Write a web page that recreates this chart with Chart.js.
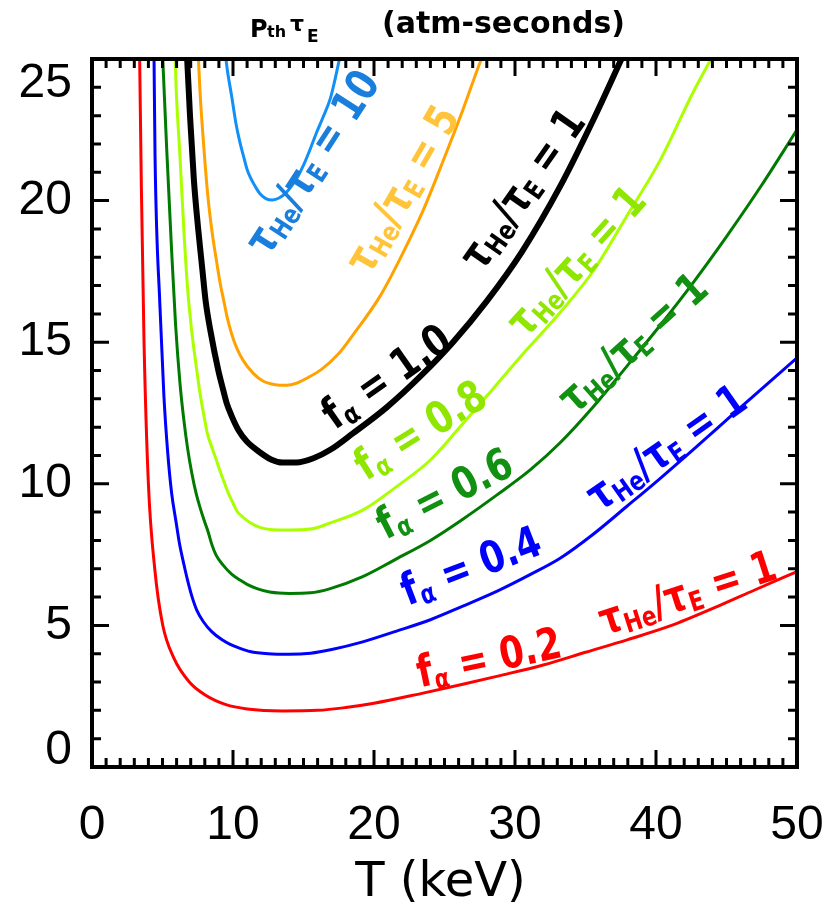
<!DOCTYPE html>
<html>
<head>
<meta charset="utf-8">
<title>p_th tau_E vs T</title>
<script src="https://cdn.jsdelivr.net/npm/chart.js@4.4.1/dist/chart.umd.min.js"></script>
<style>
  html, body { margin: 0; padding: 0; background: #fff; }
  #wrap { width: 825px; height: 917px; }
</style>
</head>
<body>
<div id="wrap"><canvas id="ignitionChart"></canvas></div>
<script>
// ======================== Data ========================
// T in keV, p*tau_E in atm-seconds
const tRed = [3.38, 3.5, 3.69, 4.0, 4.45, 5.0, 5.8, 6.9, 8.0, 9.5, 11, 13.5, 16, 18, 20, 23.4, 26.3, 28.7, 32, 35, 38, 41, 44.5, 47, 50];
const pRed = [25, 20.5, 15, 10, 7, 5.05, 3.85, 3.0, 2.55, 2.2, 2.05, 1.98, 2.0, 2.1, 2.25, 2.6, 2.92, 3.2, 3.6, 4.05, 4.5, 4.98, 5.7, 6.25, 6.9];

const tBlue = [4.4, 4.47, 4.82, 5.1, 5.37, 5.65, 5.96, 6.2, 6.52, 6.75, 7.07, 7.42, 7.9, 8.49, 9.2, 9.8, 10.5, 11.2, 12.5, 14, 15.5, 17, 19.2, 21.6, 24, 26.3, 28.7, 31.1, 33.2, 35.5, 37.9, 40.2, 42.6, 46, 50];
const pBlue = [25, 21.6, 16.25, 13.1, 11.1, 9.66, 8.66, 7.9, 7.15, 6.65, 6.05, 5.55, 5.13, 4.78, 4.5, 4.33, 4.19, 4.08, 4.0, 3.98, 4.02, 4.15, 4.42, 4.8, 5.2, 5.68, 6.2, 6.8, 7.37, 8.2, 9.19, 10.15, 11.19, 12.7, 14.45];

const tGreen = [5.02, 5.3, 5.65, 5.93, 6.24, 6.52, 6.78, 7.07, 7.38, 7.66, 7.94, 8.25, 8.49, 8.8, 9.3, 9.9, 10.5, 11, 11.7, 12.6, 14, 15.5, 16.9, 19.2, 21.6, 24, 26.3, 28.7, 31.1, 33.2, 35.6, 37.9, 40.3, 42.6, 45, 47.5, 50];
const pGreen = [25, 21.8, 18.2, 15.6, 13.55, 12.23, 11.25, 10.4, 9.67, 9.17, 8.73, 8.28, 7.87, 7.48, 7.13, 6.81, 6.6, 6.45, 6.3, 6.18, 6.13, 6.15, 6.3, 6.72, 7.35, 8.0, 8.75, 9.6, 10.5, 11.45, 12.75, 14.13, 15.6, 17.08, 18.73, 20.55, 22.5];

const tLime = [5.9, 5.96, 6.24, 6.52, 6.78, 7.07, 7.38, 7.66, 7.94, 8.18, 8.49, 8.8, 9.08, 9.38, 9.67, 9.98, 10.26, 10.73, 11.2, 11.9, 12.8, 14, 15.5, 16.9, 19.2, 21.6, 24, 26, 28, 30.5, 33.2, 35.6, 37.9, 40.3, 42.6, 43.9];
const pLime = [25, 24.05, 21.55, 18.9, 16.9, 15.4, 14.2, 13.2, 12.4, 11.78, 11.3, 10.87, 10.45, 10.05, 9.67, 9.34, 9.05, 8.81, 8.63, 8.46, 8.38, 8.37, 8.4, 8.62, 9.07, 9.9, 10.84, 11.95, 13.1, 14.55, 16.05, 17.55, 19.43, 21.43, 23.79, 25];

const tBlack = [6.75, 6.95, 7.23, 7.54, 7.82, 8.06, 8.4, 8.96, 9.26, 9.55, 9.9, 10.38, 10.97, 11.8, 12.74, 13.5, 14.5, 15.7, 16.9, 18.5, 20.9, 23.3, 25.6, 28, 30.5, 33.2, 35.6, 37.55];
const pBlack = [25, 23, 20.7, 18.95, 17.6, 16.45, 15.4, 14.0, 13.4, 12.85, 12.4, 11.9, 11.5, 11.15, 10.85, 10.75, 10.75, 10.9, 11.2, 11.78, 12.7, 13.8, 15.0, 16.45, 18.2, 20.5, 22.9, 25];

const tOrange = [7.55, 7.66, 7.94, 8.2, 8.49, 8.8, 9.08, 9.36, 9.6, 9.9, 10.26, 10.73, 11.44, 12.15, 13, 13.8, 14.5, 15.2, 16.3, 17.5, 18.5, 20.4, 21.8, 23.5, 24.9, 26.3, 27.5, 27.62];
const pOrange = [25, 23.85, 21.83, 20.25, 18.99, 17.96, 17.11, 16.43, 15.85, 15.3, 14.8, 14.35, 13.9, 13.62, 13.5, 13.48, 13.55, 13.72, 14.05, 14.6, 15.25, 16.6, 17.9, 19.67, 21.4, 23.2, 24.85, 25];

const tSky = [9.5, 9.6, 9.9, 10.2, 10.47, 10.73, 11, 11.3, 11.6, 11.9, 12.3, 12.8, 13.3, 13.8, 14.2, 14.6, 15, 15.5, 15.9, 16.4, 16.9, 17.2, 17.55];
const pSky = [25, 24.6, 23.7, 22.75, 22.1, 21.6, 21.1, 20.75, 20.48, 20.25, 20.08, 20.02, 20.1, 20.3, 20.55, 20.85, 21.25, 21.85, 22.37, 22.96, 23.6, 24.2, 25];

const xTickValues = [0, 10, 20, 30, 40, 50];
const yTickValues = [0, 5, 10, 15, 20, 25];

// ======================== Curve annotations ========================
// anchor in data units (T, p), angle in degrees
const tauOne = [['τ', 0], ['He', 1], ['/τ', 0], ['E', 1], [' = 1', 0]];
const curveLabels = [
    { T: 28.2, p: 3.75, angle: -12, color: '#ff0000', parts: [['f', 0], ['α', 1], [' = 0.2', 0]] },
    { T: 42.3, p: 6.05, angle: -18, color: '#ff0000', parts: tauOne },
    { T: 26.95, p: 7.0, angle: -21, color: '#0000ff', parts: [['f', 0], ['α', 1], [' = 0.4', 0]] },
    { T: 40.85, p: 11.2, angle: -35, color: '#0000ff', parts: tauOne },
    { T: 25.1, p: 9.55, angle: -27, color: '#119011', parts: [['f', 0], ['α', 1], [' = 0.6', 0]] },
    { T: 38.5, p: 14.9, angle: -42, color: '#119011', parts: tauOne },
    { T: 23.4, p: 11.8, angle: -32, color: '#8fe600', parts: [['f', 0], ['α', 1], [' = 0.8', 0]] },
    { T: 34.5, p: 17.8, angle: -48, color: '#8fe600', parts: tauOne },
    { T: 21.0, p: 13.7, angle: -35, color: '#000000', parts: [['f', 0], ['α', 1], [' = 1.0', 0]] },
    { T: 30.7, p: 20.35, angle: -55, color: '#000000', parts: tauOne },
    { T: 22.2, p: 20.35, angle: -60, color: '#ffc43a', parts: [['τ', 0], ['He', 1], ['/τ', 0], ['E', 1], [' = 5', 0]] },
    { T: 15.8, p: 21.3, angle: -57, color: '#1a7fdc', parts: [['τ', 0], ['He', 1], ['/τ', 0], ['E', 1], [' = 10', 0]] }
];

function toPoints(ts, ps) {
    return ts.map((t, i) => ({ x: t, y: ps[i] }));
}

function curve(ts, ps, color, width) {
    return {
        data: toPoints(ts, ps),
        borderColor: color,
        borderWidth: width,
        pointRadius: 0,
        cubicInterpolationMode: 'monotone',
        borderJoinStyle: 'round',
        fill: false
    };
}

// draws "text with subscripts" centred on the current origin
function drawRich(ctx, parts, size) {
    const big = `bold ${size}px "DejaVu Sans"`;
    const small = `bold ${Math.round(size * 0.62)}px "DejaVu Sans"`;
    let w = 0;
    parts.forEach(p => {
        ctx.font = p[1] ? small : big;
        w += ctx.measureText(p[0]).width;
    });
    let x = -w / 2;
    parts.forEach(p => {
        ctx.font = p[1] ? small : big;
        ctx.fillText(p[0], x, p[1] ? size * 0.22 : 0);
        x += ctx.measureText(p[0]).width;
    });
}

// ======================== Plugins ========================
const frameAndTicks = {
    id: 'frameAndTicks',
    afterDatasetsDraw(chart) {
        const { ctx, chartArea: a, scales: { x, y } } = chart;
        ctx.save();
        ctx.strokeStyle = '#000';
        ctx.lineWidth = 3;
        ctx.beginPath();
        for (let t = x.min; t <= x.max; t += 1) {
            const px = x.getPixelForValue(t);
            const len = t % 10 === 0 ? 17 : 9;
            ctx.moveTo(px, a.bottom); ctx.lineTo(px, a.bottom - len);
            ctx.moveTo(px, a.top); ctx.lineTo(px, a.top + len);
        }
        for (let v = y.min; v <= y.max; v += 1) {
            const py = y.getPixelForValue(v);
            const len = v % 5 === 0 ? 17 : 9;
            ctx.moveTo(a.left, py); ctx.lineTo(a.left + len, py);
            ctx.moveTo(a.right, py); ctx.lineTo(a.right - len, py);
        }
        ctx.stroke();
        ctx.lineWidth = 4;
        ctx.strokeRect(a.left, a.top, a.right - a.left, a.bottom - a.top);
        ctx.restore();
    },
    afterDraw(chart) {
        const { ctx, chartArea: a, scales: { x, y } } = chart;
        ctx.save();
        ctx.fillStyle = '#000';

        // y tick labels (end labels kept inside the axis range)
        ctx.font = '48px "Liberation Sans"';
        ctx.textAlign = 'right';
        ctx.textBaseline = 'middle';
        yTickValues.forEach((v, i) => {
            let py = y.getPixelForValue(v);
            if (i === 0) py -= 16;
            if (i === yTickValues.length - 1) py += 25;
            ctx.fillText(String(v), 72, py);
        });

        // x axis title
        ctx.font = '48px "DejaVu Sans"';
        ctx.textAlign = 'center';
        ctx.fillText('T (keV)', (a.left + a.right) / 2 - 4, 884);

        // top title
        ctx.textAlign = 'left';
        ctx.textBaseline = 'alphabetic';
        ctx.font = 'bold 24px "DejaVu Sans"';
        ctx.fillText('P', 250, 37);
        ctx.font = 'bold 16px "DejaVu Sans"';
        ctx.fillText('th', 267, 37);
        ctx.font = 'bold 22px "DejaVu Sans"';
        ctx.fillText('τ', 290, 31);
        ctx.font = 'bold 17px "DejaVu Sans"';
        ctx.fillText('E', 307, 42);
        ctx.font = 'bold 30px "DejaVu Sans"';
        ctx.fillText('(atm-seconds)', 382, 33);

        // curve annotations
        ctx.textAlign = 'left';
        ctx.textBaseline = 'middle';
        curveLabels.forEach(l => {
            ctx.save();
            ctx.translate(x.getPixelForValue(l.T), y.getPixelForValue(l.p));
            ctx.rotate(l.angle * Math.PI / 180);
            ctx.scale(0.8, 1);
            ctx.fillStyle = l.color;
            drawRich(ctx, l.parts, 44);
            ctx.restore();
        });
        ctx.restore();
    }
};

// ======================== Chart ========================
let ctx = document.getElementById('ignitionChart').getContext('2d');

let ignitionChart = new Chart(ctx, {
    type: 'line',
    data: {
        datasets: [
            curve(tRed, pRed, '#ff0000', 3),
            curve(tBlue, pBlue, '#0000ff', 3),
            curve(tGreen, pGreen, '#007a00', 3),
            curve(tLime, pLime, '#aaff00', 3),
            curve(tOrange, pOrange, '#ffa200', 3),
            curve(tSky, pSky, '#1090f8', 3),
            curve(tBlack, pBlack, '#000000', 6)
        ]
    },
    options: {
        responsive: true,
        maintainAspectRatio: false,
        animation: false,
        layout: { padding: { top: 59, right: 28, left: 0, bottom: 0 } },
        plugins: {
            legend: { display: false },
            tooltip: { enabled: false }
        },
        scales: {
            x: {
                type: 'linear',
                min: 0,
                max: 50,
                afterFit: s => { s.height = 150; s.paddingLeft = 0; s.paddingRight = 0; },
                afterBuildTicks: s => { s.ticks = xTickValues.map(v => ({ value: v })); },
                grid: { display: false, drawTicks: false },
                border: { display: false },
                ticks: {
                    color: '#000',
                    padding: 30,
                    maxRotation: 0,
                    font: { family: 'Liberation Sans', size: 48 }
                }
            },
            y: {
                type: 'linear',
                min: 0,
                max: 25,
                afterFit: s => { s.width = 92; s.paddingTop = 0; s.paddingBottom = 0; },
                afterBuildTicks: s => { s.ticks = yTickValues.map(v => ({ value: v })); },
                grid: { display: false, drawTicks: false },
                border: { display: false },
                ticks: { display: false }
            }
        }
    },
    plugins: [frameAndTicks]
});
</script>
</body>
</html>
